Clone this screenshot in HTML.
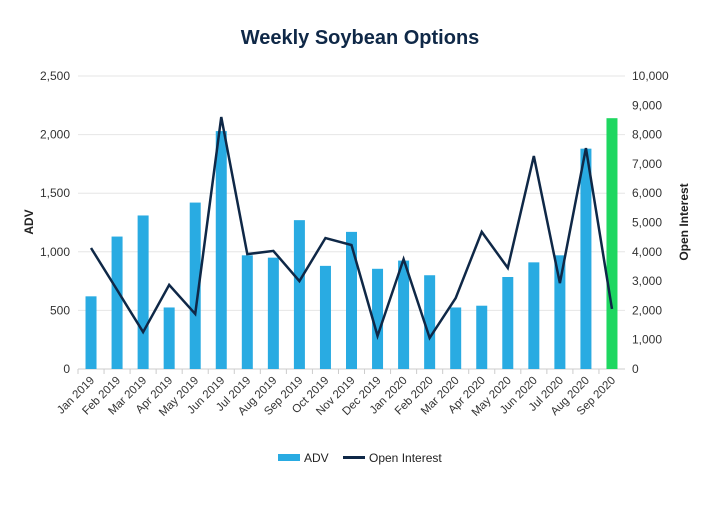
<!DOCTYPE html>
<html><head><meta charset="utf-8"><style>
body{margin:0;background:#fff;font-family:"Liberation Sans",sans-serif}
svg text{font-family:"Liberation Sans",sans-serif}
</style></head><body>
<svg width="720" height="500" id="c">
<text x="360" y="44" text-anchor="middle" font-size="20" font-weight="bold" fill="#0f2847">Weekly Soybean Options</text>
<text transform="translate(33,222) rotate(-90)" text-anchor="middle" font-size="12" font-weight="bold" fill="#222">ADV</text>
<text transform="translate(688,222) rotate(-90)" text-anchor="middle" font-size="12" font-weight="bold" fill="#222">Open Interest</text>
<g id="plot"></g>
<g>
<rect x="278" y="454" width="22" height="7" fill="#29abe2"/>
<text x="304" y="462" font-size="12" fill="#222">ADV</text>
<rect x="343" y="456" width="22" height="3" fill="#0f2847"/>
<text x="369" y="462" font-size="12" fill="#222">Open Interest</text>
</g>
</svg>
<script>
const categories=["Jan 2019","Feb 2019","Mar 2019","Apr 2019","May 2019","Jun 2019","Jul 2019","Aug 2019","Sep 2019","Oct 2019","Nov 2019","Dec 2019","Jan 2020","Feb 2020","Mar 2020","Apr 2020","May 2020","Jun 2020","Jul 2020","Aug 2020","Sep 2020"];
const advValues=[620,1130,1310,525,1420,2030,970,950,1270,880,1170,855,925,800,525,540,785,910,970,1880,2140];
const oiValues=[4130,2700,1260,2870,1880,8600,3920,4030,3000,4470,4230,1130,3750,1060,2420,4680,3450,7270,2930,7540,2050];
const leftTicks=[0,500,1000,1500,2000,2500];
const rightTicks=[0,1000,2000,3000,4000,5000,6000,7000,8000,9000,10000];
const NS="http://www.w3.org/2000/svg";
const g=document.getElementById('plot');
const x0=78,x1=625,y0=369,y1=76;
const bw=(x1-x0)/categories.length;
const xC=i=>x0+bw*(i+0.5);
const yL=v=>y0-(v/2500)*(y0-y1);
const yR=v=>y0-(v/10000)*(y0-y1);
function mk(t,a){const e=document.createElementNS(NS,t);for(const k in a)e.setAttribute(k,a[k]);g.appendChild(e);return e;}
leftTicks.forEach(v=>{
 const l=mk('line',{x1:x0,x2:x1,y1:yL(v),y2:yL(v),stroke:v?'#e6e6e6':'#ccc','stroke-width':1});
 
 
 const t=mk('text',{x:70,y:yL(v)+4,'text-anchor':'end','font-size':12,fill:'#333'});t.textContent=v.toLocaleString('en-US');
 
 
});
rightTicks.forEach(v=>{
 const t=mk('text',{x:632,y:yR(v)+4,'text-anchor':'start','font-size':12,fill:'#333'});t.textContent=v.toLocaleString('en-US');
 
 
});
categories.forEach((c,i)=>{
 const last=i===categories.length-1;
 const r=mk('rect',{x:xC(i)-5.5,y:yL(advValues[i]),width:11,height:y0-yL(advValues[i]),fill:last?'#1ed760':'#29abe2'});
 
 
 const tk=mk('line',{x1:x0+bw*i,x2:x0+bw*i,y1:y0,y2:y0+5,stroke:'#ccc'});
 
 
 const t=mk('text',{transform:`translate(${xC(i)+4},${y0+12}) rotate(-45)`,'text-anchor':'end','font-size':11.5,fill:'#333'});t.textContent=c;
 
 
});
const p=mk('polyline',{points:oiValues.map((v,i)=>xC(i)+','+yR(v)).join(' '),fill:'none',stroke:'#0f2847','stroke-width':2.5,'stroke-linejoin':'miter'});


</script>
</body></html>
